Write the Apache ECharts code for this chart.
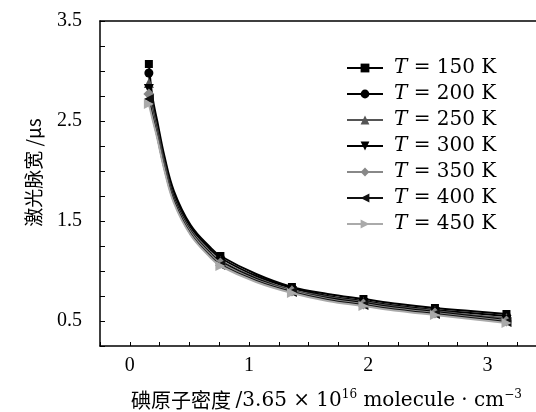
<!DOCTYPE html>
<html>
<head>
<meta charset="utf-8">
<script src="https://cdn.jsdelivr.net/npm/echarts@6/dist/echarts.min.js"></script>
<style>
  html, body { margin: 0; padding: 0; background: #fff; }
  #chart { width: 536px; height: 412px; }
</style>
</head>
<body>
<div id="chart"></div>
<script>
// iodine atom density (units of 3.65e16 molecule/cm^3)
const density = [0.16, 0.19, 0.23, 0.29, 0.37, 0.51, 0.68, 0.76, 1.06, 1.36, 1.66, 1.96, 2.26, 2.56, 2.86, 3.16];
// indices of the measured points (drawn with markers)
const markerIndex = [0, 7, 9, 11, 13, 15];

const temperatures = [150, 200, 250, 300, 350, 400, 450];

// laser pulse width (us)
const width150 = [3.07, 2.74, 2.50, 2.15, 1.80, 1.46, 1.23, 1.15, 0.97, 0.84, 0.77, 0.72, 0.67, 0.63, 0.60, 0.57];
const width200 = [2.98, 2.69, 2.46, 2.12, 1.77, 1.44, 1.21, 1.13, 0.95, 0.83, 0.75, 0.70, 0.65, 0.61, 0.58, 0.55];
const width250 = [2.88, 2.64, 2.42, 2.08, 1.74, 1.41, 1.18, 1.10, 0.93, 0.81, 0.74, 0.69, 0.64, 0.60, 0.56, 0.53];
const width300 = [2.82, 2.60, 2.39, 2.06, 1.73, 1.40, 1.17, 1.09, 0.92, 0.80, 0.73, 0.68, 0.63, 0.59, 0.55, 0.51];
const width350 = [2.77, 2.58, 2.37, 2.05, 1.71, 1.39, 1.16, 1.08, 0.91, 0.80, 0.72, 0.67, 0.62, 0.58, 0.54, 0.50];
const width400 = [2.72, 2.55, 2.35, 2.03, 1.70, 1.37, 1.14, 1.06, 0.90, 0.79, 0.71, 0.66, 0.61, 0.57, 0.53, 0.49];
const width450 = [2.67, 2.52, 2.33, 2.01, 1.68, 1.36, 1.13, 1.05, 0.89, 0.78, 0.70, 0.65, 0.60, 0.56, 0.52, 0.48];

const widths = [width150, width200, width250, width300, width350, width400, width450];

const serif = '"DejaVu Serif", "Liberation Serif", serif';
const tickFont = '"Liberation Serif", serif';
const cjk = '"Noto Sans CJK SC", sans-serif';

// look of each series
const looks = [
  { color: '#000000', symbol: 'rect', rotate: 0, size: 8 },
  { color: '#000000', symbol: 'circle', rotate: 0, size: 9 },
  { color: '#555555', symbol: 'triangle', rotate: 0, size: 10 },
  { color: '#000000', symbol: 'triangle', rotate: 180, size: 10 },
  { color: '#888888', symbol: 'diamond', rotate: 0, size: 11 },
  { color: '#111111', symbol: 'triangle', rotate: 90, size: 10 },
  { color: '#aaaaaa', symbol: 'triangle', rotate: -90, size: 10 },
];

const chart = echarts.init(document.getElementById('chart'));

const series = temperatures.map((t, i) => ({
  type: 'line',
  name: 'T=' + t + ' K',
  data: density.map((x, j) => [x, widths[i][j]]),
  smooth: 0.4,
  showSymbol: true,
  showAllSymbol: true,
  symbol: looks[i].symbol,
  symbolRotate: looks[i].rotate,
  symbolSize: (val, params) => markerIndex.includes(params.dataIndex) ? looks[i].size : 0,
  lineStyle: { color: looks[i].color, width: 2 },
  itemStyle: { color: looks[i].color },
  emphasis: { disabled: true },
  z: 2 + i,
}));

const option = {
  animation: false,
  grid: { left: 100, top: 21, right: -11, bottom: 66, outerBoundsMode: 'none', containLabel: false },
  legend: {
    orient: 'vertical',
    left: 341,
    top: 53,
    itemWidth: 36,
    itemHeight: 11,
    itemGap: 6,
    symbolRotate: 'inherit',
    data: series.map(s => s.name),
    formatter: name => '{i|T}{n| = ' + name.slice(2) + '}',
    textStyle: {
      rich: {
        i: { fontFamily: serif, fontStyle: 'italic', fontSize: 20, color: '#000', padding: [0, 0, 0, 6], lineHeight: 22 },
        n: { fontFamily: serif, fontSize: 20, color: '#000', lineHeight: 22 },
      },
    },
  },
  xAxis: [{
    type: 'value',
    min: -0.25,
    max: 3.5,
    interval: 0.25,
    name: '{c|碘原子密度 }{n|/3.65 × 10}{s|16}{n| molecule · cm}{s|−3}',
    nameLocation: 'middle',
    nameGap: 43,
    nameTextStyle: {
      padding: [0, 0, 0, 6],
      rich: {
        c: { fontFamily: cjk, fontSize: 20, color: '#000' },
        n: { fontFamily: serif, fontSize: 20, color: '#000' },
        s: { fontFamily: serif, fontSize: 12, color: '#000', padding: [0, 0, 11, 0] },
      },
    },
    axisLine: { onZero: false, lineStyle: { color: '#000', width: 1.5 } },
    axisTick: { inside: true, length: 4, lineStyle: { color: '#000' } },
    axisLabel: {
      margin: 10,
      fontFamily: tickFont,
      fontSize: 20,
      color: '#000',
      formatter: v => (Math.abs(v - Math.round(v)) < 1e-6 ? String(Math.round(v)) : ''),
    },
    splitLine: { show: false },
  }, {
    type: 'value',
    position: 'top',
    min: -0.25,
    max: 3.5,
    axisLine: { onZero: false, lineStyle: { color: '#000', width: 1.5 } },
    axisTick: { show: false },
    axisLabel: { show: false },
    splitLine: { show: false },
  }],
  yAxis: {
    type: 'value',
    min: 0.25,
    max: 3.5,
    interval: 0.25,
    name: '激光脉宽 /μs',
    nameLocation: 'middle',
    nameGap: 57,
    nameTextStyle: { fontFamily: cjk, fontSize: 19, color: '#000', padding: [0, 0, 0, 22] },
    axisLine: { onZero: false, lineStyle: { color: '#000', width: 1.5 } },
    axisTick: { inside: true, length: 5, lineStyle: { color: '#000' } },
    axisLabel: {
      margin: 18,
      fontFamily: tickFont,
      fontSize: 20,
      color: '#000',
      formatter: v => (Math.abs(v - 0.5 - Math.round(v - 0.5)) < 1e-6 ? v.toFixed(1) : ''),
    },
    splitLine: { show: false },
  },
  series: series,
};

chart.setOption(option);
</script>
</body>
</html>
